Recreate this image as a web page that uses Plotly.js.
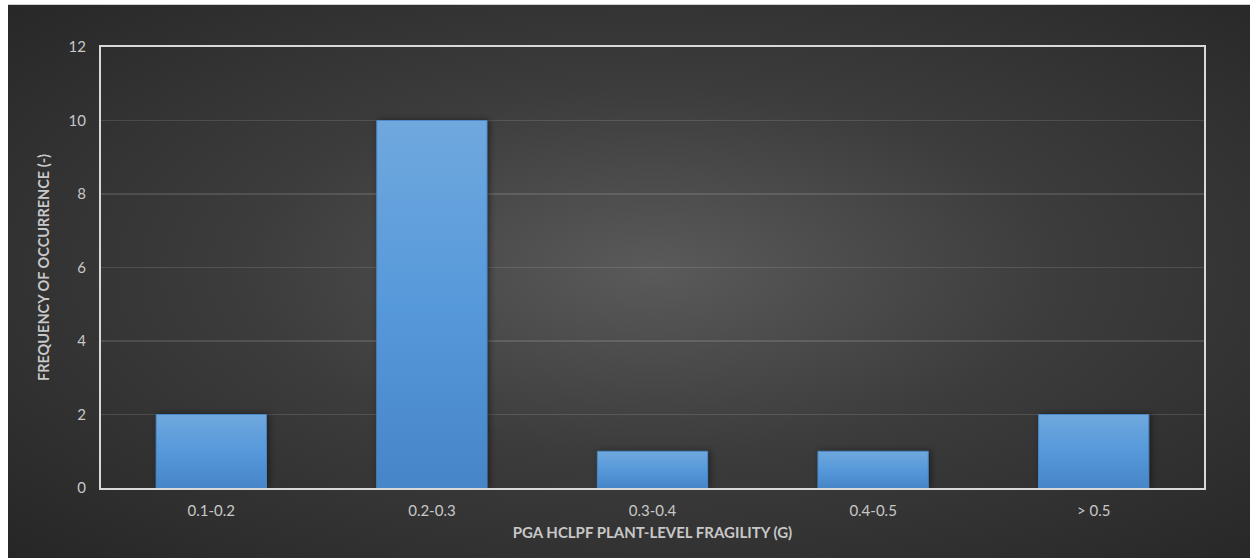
<!DOCTYPE html>
<html>
<head>
<meta charset="utf-8">
<script src="https://cdn.plot.ly/plotly-3.0.1.min.js"></script>
<style>
  html, body { margin: 0; padding: 0; background: #ffffff; }
  #chart {
    position: absolute; left: 8px; top: 4px; width: 1242px; height: 554px;
    background: radial-gradient(ellipse farthest-corner at 52% 48%, #5a5a5a 0%, #3c3c3c 45%, #262626 100%);
    border-top: 1px solid #d0d0d0;
    box-sizing: border-box;
  }
  .barlayer .point path { filter: drop-shadow(2px 0px 3px rgba(0,0,0,0.45)); }
</style>
</head>
<body>
<div id="chart"></div>
<script>
// Fragility bins and how many plants fall in each
const categories = ['0.1-0.2', '0.2-0.3', '0.3-0.4', '0.4-0.5', '> 0.5'];
const frequency = [2, 10, 1, 1, 2];
const yTicks = [0, 2, 4, 6, 8, 10, 12];

const trace = {
  type: 'bar',
  x: categories,
  y: frequency,
  marker: { color: '#5a9ad8', line: { color: '#4b88c6', width: 1 } },
  hoverinfo: 'x+y'
};

const fam = 'Lato, Open Sans, sans-serif';
const tickFont = { family: fam, size: 15, color: '#c8c8c8' };

const layout = {
  width: 1242, height: 553,
  margin: { l: 93, r: 46, t: 42, b: 70 },
  paper_bgcolor: 'rgba(0,0,0,0)',
  plot_bgcolor: 'rgba(0,0,0,0)',
  bargap: 0.5,
  showlegend: false,
  xaxis: {
    type: 'category',
    tickfont: tickFont,
    ticks: '', showgrid: false,
    ticklabelstandoff: 8,
    showline: true, linecolor: '#d9d9d9', linewidth: 2, mirror: true,
    title: {
      text: 'PGA HCLPF PLANT-LEVEL FRAGILITY (G)',
      font: { family: fam, size: 15, color: '#c8c8c8', weight: 'bold' },
      standoff: 9
    }
  },
  yaxis: {
    range: [0, 12],
    tickvals: yTicks,
    tickfont: tickFont,
    ticks: '',
    ticklabelstandoff: 10,
    showgrid: true, gridcolor: 'rgba(255,255,255,0.12)', gridwidth: 1.5,
    zeroline: false,
    showline: true, linecolor: '#d9d9d9', linewidth: 2, mirror: true,
    title: {
      text: 'FREQUENCY OF OCCURRENCE (-)',
      font: { family: fam, size: 14.5, color: '#c8c8c8', weight: 'bold' },
      standoff: 16
    }
  }
};

Plotly.newPlot('chart', [trace], layout, { displayModeBar: false, staticPlot: true }).then(gd => {
  // vertical shading on the bars: lighter at the top, deeper blue at the base
  const svg = gd.querySelector('svg.main-svg');
  const ns = 'http://www.w3.org/2000/svg';
  let defs = svg.querySelector('defs');
  if (!defs) { defs = document.createElementNS(ns, 'defs'); svg.insertBefore(defs, svg.firstChild); }
  const grad = document.createElementNS(ns, 'linearGradient');
  grad.setAttribute('id', 'barShade');
  grad.setAttribute('x1', '0'); grad.setAttribute('y1', '0');
  grad.setAttribute('x2', '0'); grad.setAttribute('y2', '1');
  [['0', '#70a8de'], ['0.5', '#5699da'], ['1', '#4685c8']].forEach(([o, c]) => {
    const s = document.createElementNS(ns, 'stop');
    s.setAttribute('offset', o); s.setAttribute('stop-color', c);
    grad.appendChild(s);
  });
  defs.appendChild(grad);
  gd.querySelectorAll('.barlayer .point path').forEach(p => { p.style.fill = 'url(#barShade)'; });
});
</script>
</body>
</html>
